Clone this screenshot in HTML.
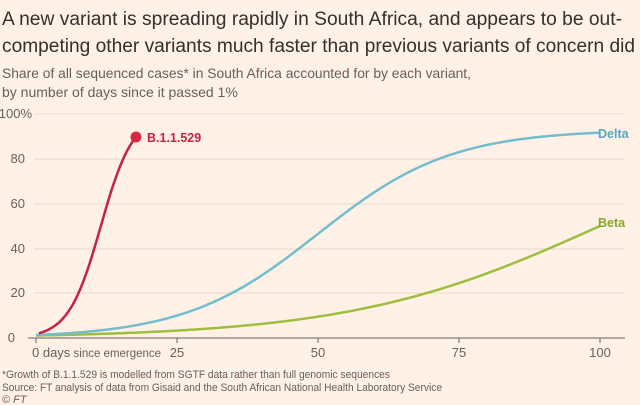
<!DOCTYPE html>
<html><head><meta charset="utf-8"><style>
body{margin:0;background:#fff1e5;width:640px;height:405px;overflow:hidden;font-family:"Liberation Sans",sans-serif;}
svg{position:absolute;left:0;top:0}
</style></head><body>
<svg width="640" height="405" viewBox="0 0 640 405" font-family="Liberation Sans, sans-serif">
<rect width="640" height="405" fill="#fff1e5"/>
<text x="2" y="25" font-size="19" fill="#33302e" textLength="620" lengthAdjust="spacingAndGlyphs">A new variant is spreading rapidly in South Africa, and appears to be out-</text>
<text x="2" y="52" font-size="19" fill="#33302e" textLength="633" lengthAdjust="spacingAndGlyphs">competing other variants much faster than previous variants of concern did</text>
<text x="2" y="78" font-size="14" fill="#66605c" textLength="469" lengthAdjust="spacingAndGlyphs">Share of all sequenced cases* in South Africa accounted for by each variant,</text>
<text x="2" y="97" font-size="14" fill="#66605c">by number of days since it passed 1%</text>
<g stroke="#e6d9ce" stroke-width="1">
<line x1="34" x2="625" y1="114" y2="114"/><line x1="34" x2="625" y1="159" y2="159"/>
<line x1="34" x2="625" y1="204" y2="204"/><line x1="34" x2="625" y1="249" y2="249"/>
<line x1="34" x2="625" y1="293" y2="293"/></g>
<line x1="28" x2="625" y1="338" y2="338" stroke="#66605c" stroke-width="1"/>
<g fill="#66605c" font-size="13" text-anchor="end">
<text x="32" y="118">100%</text><text x="25" y="163">80</text><text x="25" y="208">60</text>
<text x="25" y="253">40</text><text x="25" y="297">20</text><text x="15" y="342">0</text></g>
<g stroke="#66605c"><line x1="36" x2="36" y1="338" y2="343"/><line x1="177" x2="177" y1="338" y2="343"/><line x1="318" x2="318" y1="338" y2="343"/><line x1="459" x2="459" y1="338" y2="343"/><line x1="600" x2="600" y1="338" y2="343"/></g>
<g fill="#66605c" font-size="13" text-anchor="middle">
<text y="357" text-anchor="start"><tspan x="32">0 days</tspan><tspan font-size="11.5"> since emergence</tspan></text>
<text x="177" y="357">25</text><text x="318" y="357">50</text><text x="459" y="357">75</text><text x="600" y="357">100</text></g>
<path id="beta" fill="none" stroke="#9dbe3e" stroke-width="2.5"/>
<path id="delta" fill="none" stroke="#74bdcf" stroke-width="2.5"/>
<path id="b" fill="none" stroke="#c4243f" stroke-width="2.5"/>
<circle cx="136" cy="137" r="5.5" fill="#d62840"/>
<text x="147" y="142" font-size="12.5" font-weight="bold" fill="#c4243f">B.1.1.529</text>
<text x="598" y="138" font-size="12.5" font-weight="bold" fill="#52a9c0">Delta</text>
<text x="598" y="227" font-size="12.5" font-weight="bold" fill="#86a82a">Beta</text>
<g fill="#66605c" font-size="11">
<text x="2" y="378" textLength="388" lengthAdjust="spacingAndGlyphs">*Growth of B.1.1.529 is modelled from SGTF data rather than full genomic sequences</text>
<text x="2" y="391" textLength="440" lengthAdjust="spacingAndGlyphs">Source: FT analysis of data from Gisaid and the South African National Health Laboratory Service</text>
<text x="2" y="403" font-style="italic">© FT</text></g>
</svg>
<script>
function X(d){return 36+d*5.64}function Y(v){return 338-v*2.24}
function mk(id,f,a,b){var s="";for(var d=a;d<=b+1e-9;d+=0.25){s+=(s?"L":"M")+X(d).toFixed(1)+","+Y(f(d)).toFixed(1)}document.getElementById(id).setAttribute("d",s)}
mk("delta",function(d){return 93/(1+Math.exp(-0.0846*(d-50)))},0,100);
mk("beta",function(d){return 100/(1+Math.exp(-0.045*(d-100)))},0,100);
mk("b",function(d){return 100/(1+Math.exp(-0.349*(d-11.5)))},0.5,17.75);
</script>
</body></html>
